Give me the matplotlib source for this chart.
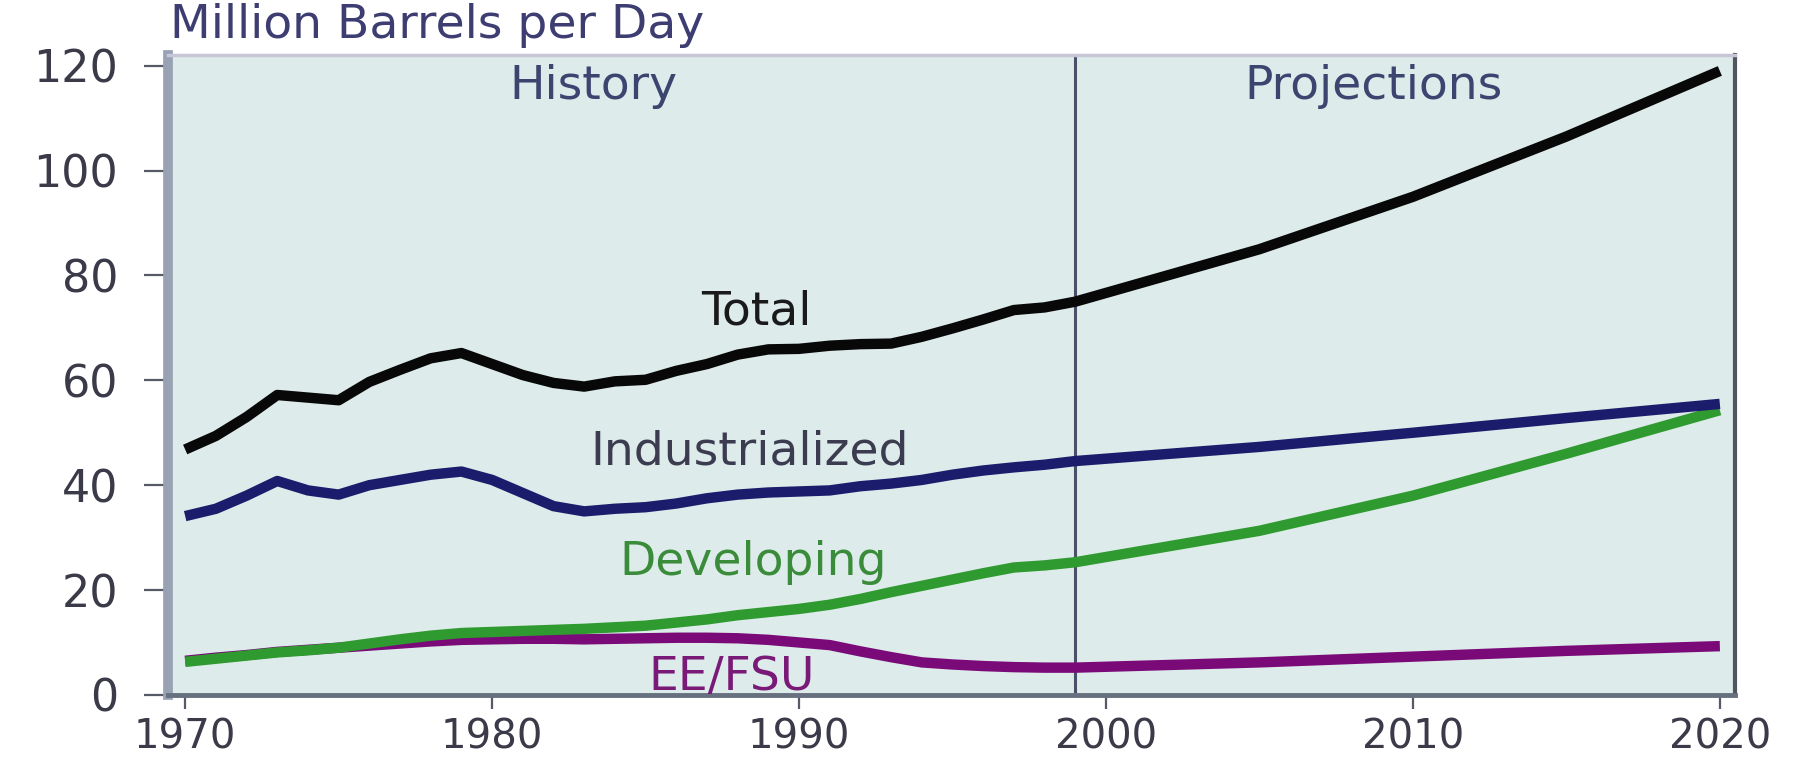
import matplotlib
matplotlib.use('Agg')
import matplotlib.pyplot as plt

# history, 1970-1999
hist_years = list(range(1970, 2000))
total_hist = [46.8, 49.4, 53.0, 57.2, 56.7, 56.2, 59.7, 62.0, 64.2, 65.2,
              63.1, 61.0, 59.5, 58.8, 59.8, 60.1, 61.8, 63.1, 64.9, 65.9,
              66.0, 66.6, 66.9, 67.0, 68.3, 69.9, 71.6, 73.4, 73.9, 75.0]
ind_hist = [34.1, 35.5, 38.0, 40.8, 39.0, 38.2, 40.0, 41.0, 42.0, 42.6,
            41.0, 38.5, 36.0, 35.0, 35.5, 35.8, 36.5, 37.5, 38.2, 38.6,
            38.8, 39.0, 39.8, 40.3, 41.0, 42.0, 42.8, 43.4, 43.9, 44.6]
dev_hist = [6.3, 6.9, 7.5, 8.1, 8.5, 9.0, 9.8, 10.6, 11.3, 11.8,
            12.0, 12.2, 12.4, 12.6, 12.9, 13.2, 13.8, 14.4, 15.2, 15.8,
            16.4, 17.2, 18.3, 19.6, 20.8, 22.0, 23.2, 24.3, 24.7, 25.3]
ee_hist = [6.5, 7.1, 7.6, 8.2, 8.6, 9.0, 9.4, 9.8, 10.2, 10.5,
           10.6, 10.7, 10.7, 10.6, 10.7, 10.8, 10.9, 10.9, 10.8, 10.5,
           10.0, 9.5, 8.3, 7.2, 6.2, 5.8, 5.5, 5.3, 5.2, 5.2]

# projections
proj_years = [2005, 2010, 2015, 2020]
total_proj = [85.0, 95.0, 106.5, 119.0]
ind_proj = [47.3, 50.0, 52.8, 55.5]
dev_proj = [31.3, 38.0, 46.0, 54.3]
ee_proj = [6.2, 7.3, 8.4, 9.3]

years = hist_years + proj_years
total = total_hist + total_proj
industrialized = ind_hist + ind_proj
developing = dev_hist + dev_proj
ee_fsu = ee_hist + ee_proj

split_year = 1999
x_ticks = [1970, 1980, 1990, 2000, 2010, 2020]
y_ticks = [0, 20, 40, 60, 80, 100, 120]

plt.rcParams['font.family'] = ['DejaVu Sans']

fig = plt.figure(figsize=(18, 7.67), dpi=100)
ax = fig.add_axes([0.0935, 0.094, 0.8705, 0.834])
ax.set_facecolor('#ddebea')

lw = 7.5
ax.plot(years, ee_fsu, color='#7a0a78', lw=lw, solid_capstyle='butt', solid_joinstyle='round')
ax.plot(years, developing, color='#2f9a2f', lw=lw, solid_capstyle='butt', solid_joinstyle='round')
ax.plot(years, industrialized, color='#1c1c6c', lw=lw, solid_capstyle='butt', solid_joinstyle='round')
ax.plot(years, total, color='#080808', lw=lw, solid_capstyle='butt', solid_joinstyle='round')

ax.axvline(split_year, color='#4a5068', lw=2.2, zorder=1)

ax.set_xlim(1969.45, 2020.5)
ax.set_ylim(0, 122)
ax.set_xticks(x_ticks)
ax.set_yticks(y_ticks)
ax.tick_params(axis='y', direction='out', length=17, width=1.6, color='#555a66',
               pad=19, labelsize=32, labelcolor='#3a3a48')
ax.tick_params(axis='x', direction='out', length=10, width=1.6, color='#555a66',
               pad=6, labelsize=29, labelcolor='#3a3a48')

ax.spines['left'].set_color('#98a2b4')
ax.spines['left'].set_linewidth(7)
ax.spines['bottom'].set_color('#66707e')
ax.spines['bottom'].set_linewidth(3.5)
ax.spines['right'].set_color('#50555f')
ax.spines['right'].set_linewidth(3)
ax.spines['top'].set_color('#c6c6d6')
ax.spines['top'].set_linewidth(2.5)

fs = 34
ax.text(1983.3, 116, 'History', ha='center', va='center', fontsize=fs, color='#3c4470')
ax.text(2008.7, 116, 'Projections', ha='center', va='center', fontsize=fs, color='#3c4470')
ax.text(1988.6, 73, 'Total', ha='center', va='center', fontsize=fs, color='#1a1a1a')
ax.text(1988.4, 46.4, 'Industrialized', ha='center', va='center', fontsize=fs, color='#3c3c50')
ax.text(1988.5, 25.2, 'Developing', ha='center', va='center', fontsize=fs, color='#3a8c3a')
ax.text(1987.8, 3.4, 'EE/FSU', ha='center', va='center', fontsize=fs, color='#7a1a78')

fig.text(170 / 1800, 1 - 26 / 767, 'Million Barrels per Day', ha='left', va='center',
         fontsize=34, color='#3d3d72')

fig.savefig('out.png', dpi=100)
